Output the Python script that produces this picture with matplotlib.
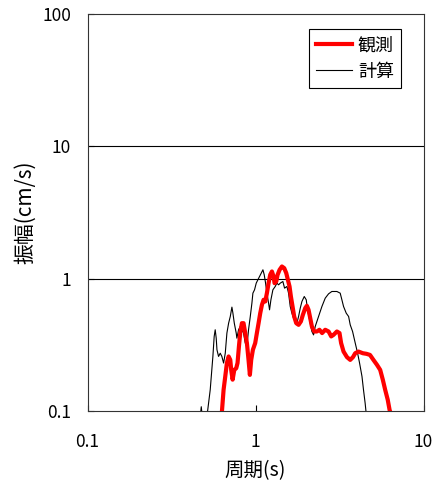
import matplotlib
matplotlib.use("Agg")
import matplotlib.pyplot as plt

plt.rcParams['font.family'] = ['Noto Sans CJK JP', 'DejaVu Sans']

# period (s) and amplitude (cm/s) - observed
obs_period = [0.630, 0.645, 0.660, 0.675, 0.691, 0.707, 0.716, 0.730, 0.747, 0.767,
              0.781, 0.796, 0.810, 0.829, 0.848, 0.868, 0.888, 0.908, 0.925, 0.942,
              0.964, 0.995, 1.018, 1.042, 1.066, 1.091, 1.116, 1.142, 1.168, 1.195,
              1.222, 1.251, 1.280, 1.297, 1.328, 1.352, 1.390, 1.435, 1.481, 1.523,
              1.557, 1.593, 1.623, 1.660, 1.698, 1.746, 1.803, 1.861, 1.913, 1.975,
              2.02, 2.067, 2.115, 2.164, 2.236, 2.318, 2.40, 2.49, 2.598, 2.72,
              2.82, 2.91, 3.05, 3.16, 3.23, 3.34, 3.50, 3.66, 3.80, 3.92,
              4.10, 4.35, 4.58, 4.80, 5.03, 5.28, 5.52, 5.72, 5.91, 6.12,
              6.28, 6.42]
obs_amp = [0.098, 0.145, 0.183, 0.231, 0.259, 0.244, 0.205, 0.173, 0.205, 0.211,
           0.231, 0.308, 0.389, 0.462, 0.462, 0.389, 0.327, 0.244, 0.188, 0.244,
           0.291, 0.327, 0.389, 0.462, 0.550, 0.636, 0.694, 0.674, 0.779, 0.927,
           1.072, 1.136, 1.041, 0.927, 0.954, 1.072, 1.17, 1.239, 1.204, 1.104,
           0.983, 0.875, 0.735, 0.618, 0.519, 0.462, 0.449, 0.476, 0.535, 0.600,
           0.625, 0.583, 0.505, 0.436, 0.400, 0.400, 0.412, 0.389, 0.412, 0.400,
           0.367, 0.377, 0.400, 0.389, 0.327, 0.282, 0.256, 0.244, 0.256, 0.274,
           0.282, 0.274, 0.271, 0.266, 0.244, 0.224, 0.205, 0.173, 0.145, 0.122,
           0.102, 0.094]

# period (s) and amplitude (cm/s) - computed
calc_period = [0.470, 0.475, 0.480, 0.518, 0.537, 0.557, 0.567, 0.575, 0.583, 0.589,
               0.602, 0.616, 0.630, 0.645, 0.660, 0.675, 0.691, 0.707, 0.723, 0.733,
               0.747, 0.767, 0.774, 0.792, 0.810, 0.829, 0.848, 0.868, 0.888, 0.896,
               0.908, 0.930, 0.951, 0.964, 0.986, 1.009, 1.032, 1.056, 1.081, 1.106,
               1.126, 1.147, 1.168, 1.195, 1.211, 1.234, 1.268, 1.309, 1.339, 1.371,
               1.402, 1.454, 1.488, 1.537, 1.572, 1.608, 1.645, 1.683, 1.722, 1.762,
               1.803, 1.845, 1.888, 1.949, 2.003, 2.04, 2.096, 2.164, 2.214, 2.265,
               2.371, 2.483, 2.598, 2.72, 2.845, 3.049, 3.19, 3.265, 3.34, 3.465,
               3.58, 3.66, 3.78, 3.92, 4.05, 4.16, 4.30, 4.39, 4.49, 4.56]
calc_amp = [0.095, 0.108, 0.095, 0.100, 0.145, 0.259, 0.367, 0.412, 0.356, 0.291,
            0.259, 0.274, 0.259, 0.231, 0.274, 0.389, 0.462, 0.519, 0.611, 0.550,
            0.462, 0.389, 0.356, 0.412, 0.436, 0.412, 0.389, 0.327, 0.308, 0.346,
            0.412, 0.519, 0.655, 0.779, 0.826, 0.927, 0.983, 1.041, 1.104, 1.17,
            1.072, 0.927, 0.779, 0.655, 0.583, 0.694, 0.826, 0.875, 0.927, 0.901,
            0.927, 0.954, 0.850, 0.875, 0.779, 0.618, 0.550, 0.505, 0.476, 0.462,
            0.519, 0.600, 0.674, 0.735, 0.694, 0.583, 0.490, 0.400, 0.377, 0.436,
            0.519, 0.618, 0.714, 0.770, 0.802, 0.802, 0.779, 0.694, 0.618, 0.550,
            0.519, 0.449, 0.400, 0.327, 0.274, 0.231, 0.183, 0.145, 0.115, 0.095]

x_ticks = [0.1, 1, 10]
x_tick_labels = ['0.1', '1', '10']
y_ticks = [0.1, 1, 10, 100]
y_tick_labels = ['0.1', '1', '10', '100']

fig = plt.figure(figsize=(4.38, 4.86), dpi=100)
ax = fig.add_axes([0.2, 0.154, 0.767, 0.817])

ax.set_xscale('log')
ax.set_yscale('log')
ax.set_xlim(0.1, 10)
ax.set_ylim(0.1, 100)

# horizontal lines at each decade
for yv in [1, 10]:
    ax.axhline(yv, color='black', lw=0.8, zorder=1)

ax.plot(obs_period, obs_amp, color='red', lw=3.0, label='観測', zorder=3)
ax.plot(calc_period, calc_amp, color='black', lw=0.8, label='計算', zorder=2)

ax.set_xticks(x_ticks)
ax.set_xticklabels(x_tick_labels)
ax.set_yticks(y_ticks)
ax.set_yticklabels(y_tick_labels)
ax.minorticks_off()
ax.tick_params(axis='both', direction='in', length=4, width=0.8, labelsize=12.5)
ax.tick_params(axis='x', pad=16)
ax.tick_params(axis='y', pad=12)

for s in ax.spines.values():
    s.set_linewidth(0.8)
    s.set_color('#333333')

ax.set_xlabel('周期(s)', fontsize=14, labelpad=6)
ax.set_ylabel('振幅(cm/s)', fontsize=15, labelpad=4)

leg = ax.legend(loc='upper right', bbox_to_anchor=(0.933, 0.962), borderaxespad=0,
                fontsize=13, fancybox=False, framealpha=1, edgecolor='black',
                handlelength=2.0, borderpad=0.4, labelspacing=0.45, handletextpad=0.3)
leg.get_frame().set_linewidth(0.8)

fig.savefig('out.png', dpi=100)
